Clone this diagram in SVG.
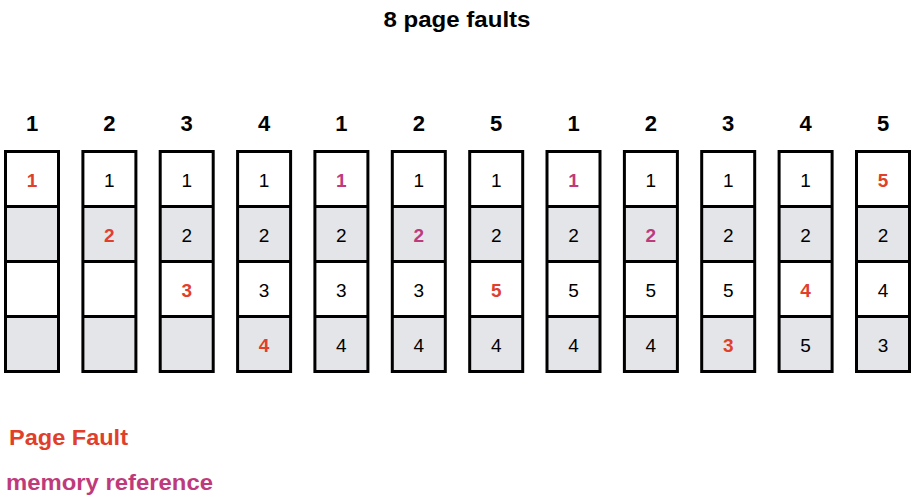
<svg xmlns="http://www.w3.org/2000/svg" width="913" height="502" viewBox="0 0 913 502">
<defs>
<style>
.bg{fill:#ffffff}
.w{fill:#ffffff}
.g{fill:#e4e5e8}
.frame{fill:none;stroke:#000000;stroke-width:3}
.div{stroke:#000000;stroke-width:3}
.hd{font-family:"Liberation Sans",Arial,sans-serif;font-weight:bold;font-size:22px;fill:#000000;text-anchor:middle}
.n{font-family:"Liberation Sans",Arial,sans-serif;font-size:19px;fill:#000000;text-anchor:middle}
.f{font-family:"Liberation Sans",Arial,sans-serif;font-size:19px;font-weight:bold;fill:#e03f2b;text-anchor:middle}
.m{font-family:"Liberation Sans",Arial,sans-serif;font-size:19px;font-weight:bold;fill:#bf3a7b;text-anchor:middle}
.title{font-family:"Liberation Sans",Arial,sans-serif;font-weight:bold;font-size:22px;fill:#000000;text-anchor:middle}
.lf{font-family:"Liberation Sans",Arial,sans-serif;font-weight:bold;font-size:22px;fill:#e03f2b}
.lm{font-family:"Liberation Sans",Arial,sans-serif;font-weight:bold;font-size:22px;fill:#bf3a7b}
</style>
<g id="col">
<rect class="w" x="0" y="0" width="53" height="55"/>
<rect class="g" x="0" y="55" width="53" height="55"/>
<rect class="w" x="0" y="110" width="53" height="55"/>
<rect class="g" x="0" y="165" width="53" height="55"/>
<line class="div" x1="0" y1="55" x2="53" y2="55"/>
<line class="div" x1="0" y1="110" x2="53" y2="110"/>
<line class="div" x1="0" y1="165" x2="53" y2="165"/>
<rect class="frame" x="0" y="0" width="53" height="220"/>
</g>
</defs>
<rect class="bg" x="0" y="0" width="913" height="502"/>
<text id="title" class="title" x="457" y="27" textLength="147" lengthAdjust="spacingAndGlyphs">8 page faults</text>

<g id="step1" transform="translate(5.5,151.5)">
<text class="hd" x="26.5" y="-21">1</text>
<use href="#col"/>
<text class="f" x="26.5" y="35">1</text>
</g>
<g id="step2" transform="translate(82.9,151.5)">
<text class="hd" x="26.5" y="-21">2</text>
<use href="#col"/>
<text class="n" x="26.5" y="35">1</text>
<text class="f" x="26.5" y="90">2</text>
</g>
<g id="step3" transform="translate(160.2,151.5)">
<text class="hd" x="26.5" y="-21">3</text>
<use href="#col"/>
<text class="n" x="26.5" y="35">1</text>
<text class="n" x="26.5" y="90">2</text>
<text class="f" x="26.5" y="145">3</text>
</g>
<g id="step4" transform="translate(237.6,151.5)">
<text class="hd" x="26.5" y="-21">4</text>
<use href="#col"/>
<text class="n" x="26.5" y="35">1</text>
<text class="n" x="26.5" y="90">2</text>
<text class="n" x="26.5" y="145">3</text>
<text class="f" x="26.5" y="200">4</text>
</g>
<g id="step5" transform="translate(314.9,151.5)">
<text class="hd" x="26.5" y="-21">1</text>
<use href="#col"/>
<text class="m" x="26.5" y="35">1</text>
<text class="n" x="26.5" y="90">2</text>
<text class="n" x="26.5" y="145">3</text>
<text class="n" x="26.5" y="200">4</text>
</g>
<g id="step6" transform="translate(392.3,151.5)">
<text class="hd" x="26.5" y="-21">2</text>
<use href="#col"/>
<text class="n" x="26.5" y="35">1</text>
<text class="m" x="26.5" y="90">2</text>
<text class="n" x="26.5" y="145">3</text>
<text class="n" x="26.5" y="200">4</text>
</g>
<g id="step7" transform="translate(469.7,151.5)">
<text class="hd" x="26.5" y="-21">5</text>
<use href="#col"/>
<text class="n" x="26.5" y="35">1</text>
<text class="n" x="26.5" y="90">2</text>
<text class="f" x="26.5" y="145">5</text>
<text class="n" x="26.5" y="200">4</text>
</g>
<g id="step8" transform="translate(547,151.5)">
<text class="hd" x="26.5" y="-21">1</text>
<use href="#col"/>
<text class="m" x="26.5" y="35">1</text>
<text class="n" x="26.5" y="90">2</text>
<text class="n" x="26.5" y="145">5</text>
<text class="n" x="26.5" y="200">4</text>
</g>
<g id="step9" transform="translate(624.4,151.5)">
<text class="hd" x="26.5" y="-21">2</text>
<use href="#col"/>
<text class="n" x="26.5" y="35">1</text>
<text class="m" x="26.5" y="90">2</text>
<text class="n" x="26.5" y="145">5</text>
<text class="n" x="26.5" y="200">4</text>
</g>
<g id="step10" transform="translate(701.7,151.5)">
<text class="hd" x="26.5" y="-21">3</text>
<use href="#col"/>
<text class="n" x="26.5" y="35">1</text>
<text class="n" x="26.5" y="90">2</text>
<text class="n" x="26.5" y="145">5</text>
<text class="f" x="26.5" y="200">3</text>
</g>
<g id="step11" transform="translate(779.1,151.5)">
<text class="hd" x="26.5" y="-21">4</text>
<use href="#col"/>
<text class="n" x="26.5" y="35">1</text>
<text class="n" x="26.5" y="90">2</text>
<text class="f" x="26.5" y="145">4</text>
<text class="n" x="26.5" y="200">5</text>
</g>
<g id="step12" transform="translate(856.5,151.5)">
<text class="hd" x="26.5" y="-21">5</text>
<use href="#col"/>
<text class="f" x="26.5" y="35">5</text>
<text class="n" x="26.5" y="90">2</text>
<text class="n" x="26.5" y="145">4</text>
<text class="n" x="26.5" y="200">3</text>
</g>

<g id="legend">
<text class="lf" x="9" y="445" textLength="119" lengthAdjust="spacingAndGlyphs">Page Fault</text>
<text class="lm" x="6" y="490" textLength="207" lengthAdjust="spacingAndGlyphs">memory reference</text>
</g>
</svg>
